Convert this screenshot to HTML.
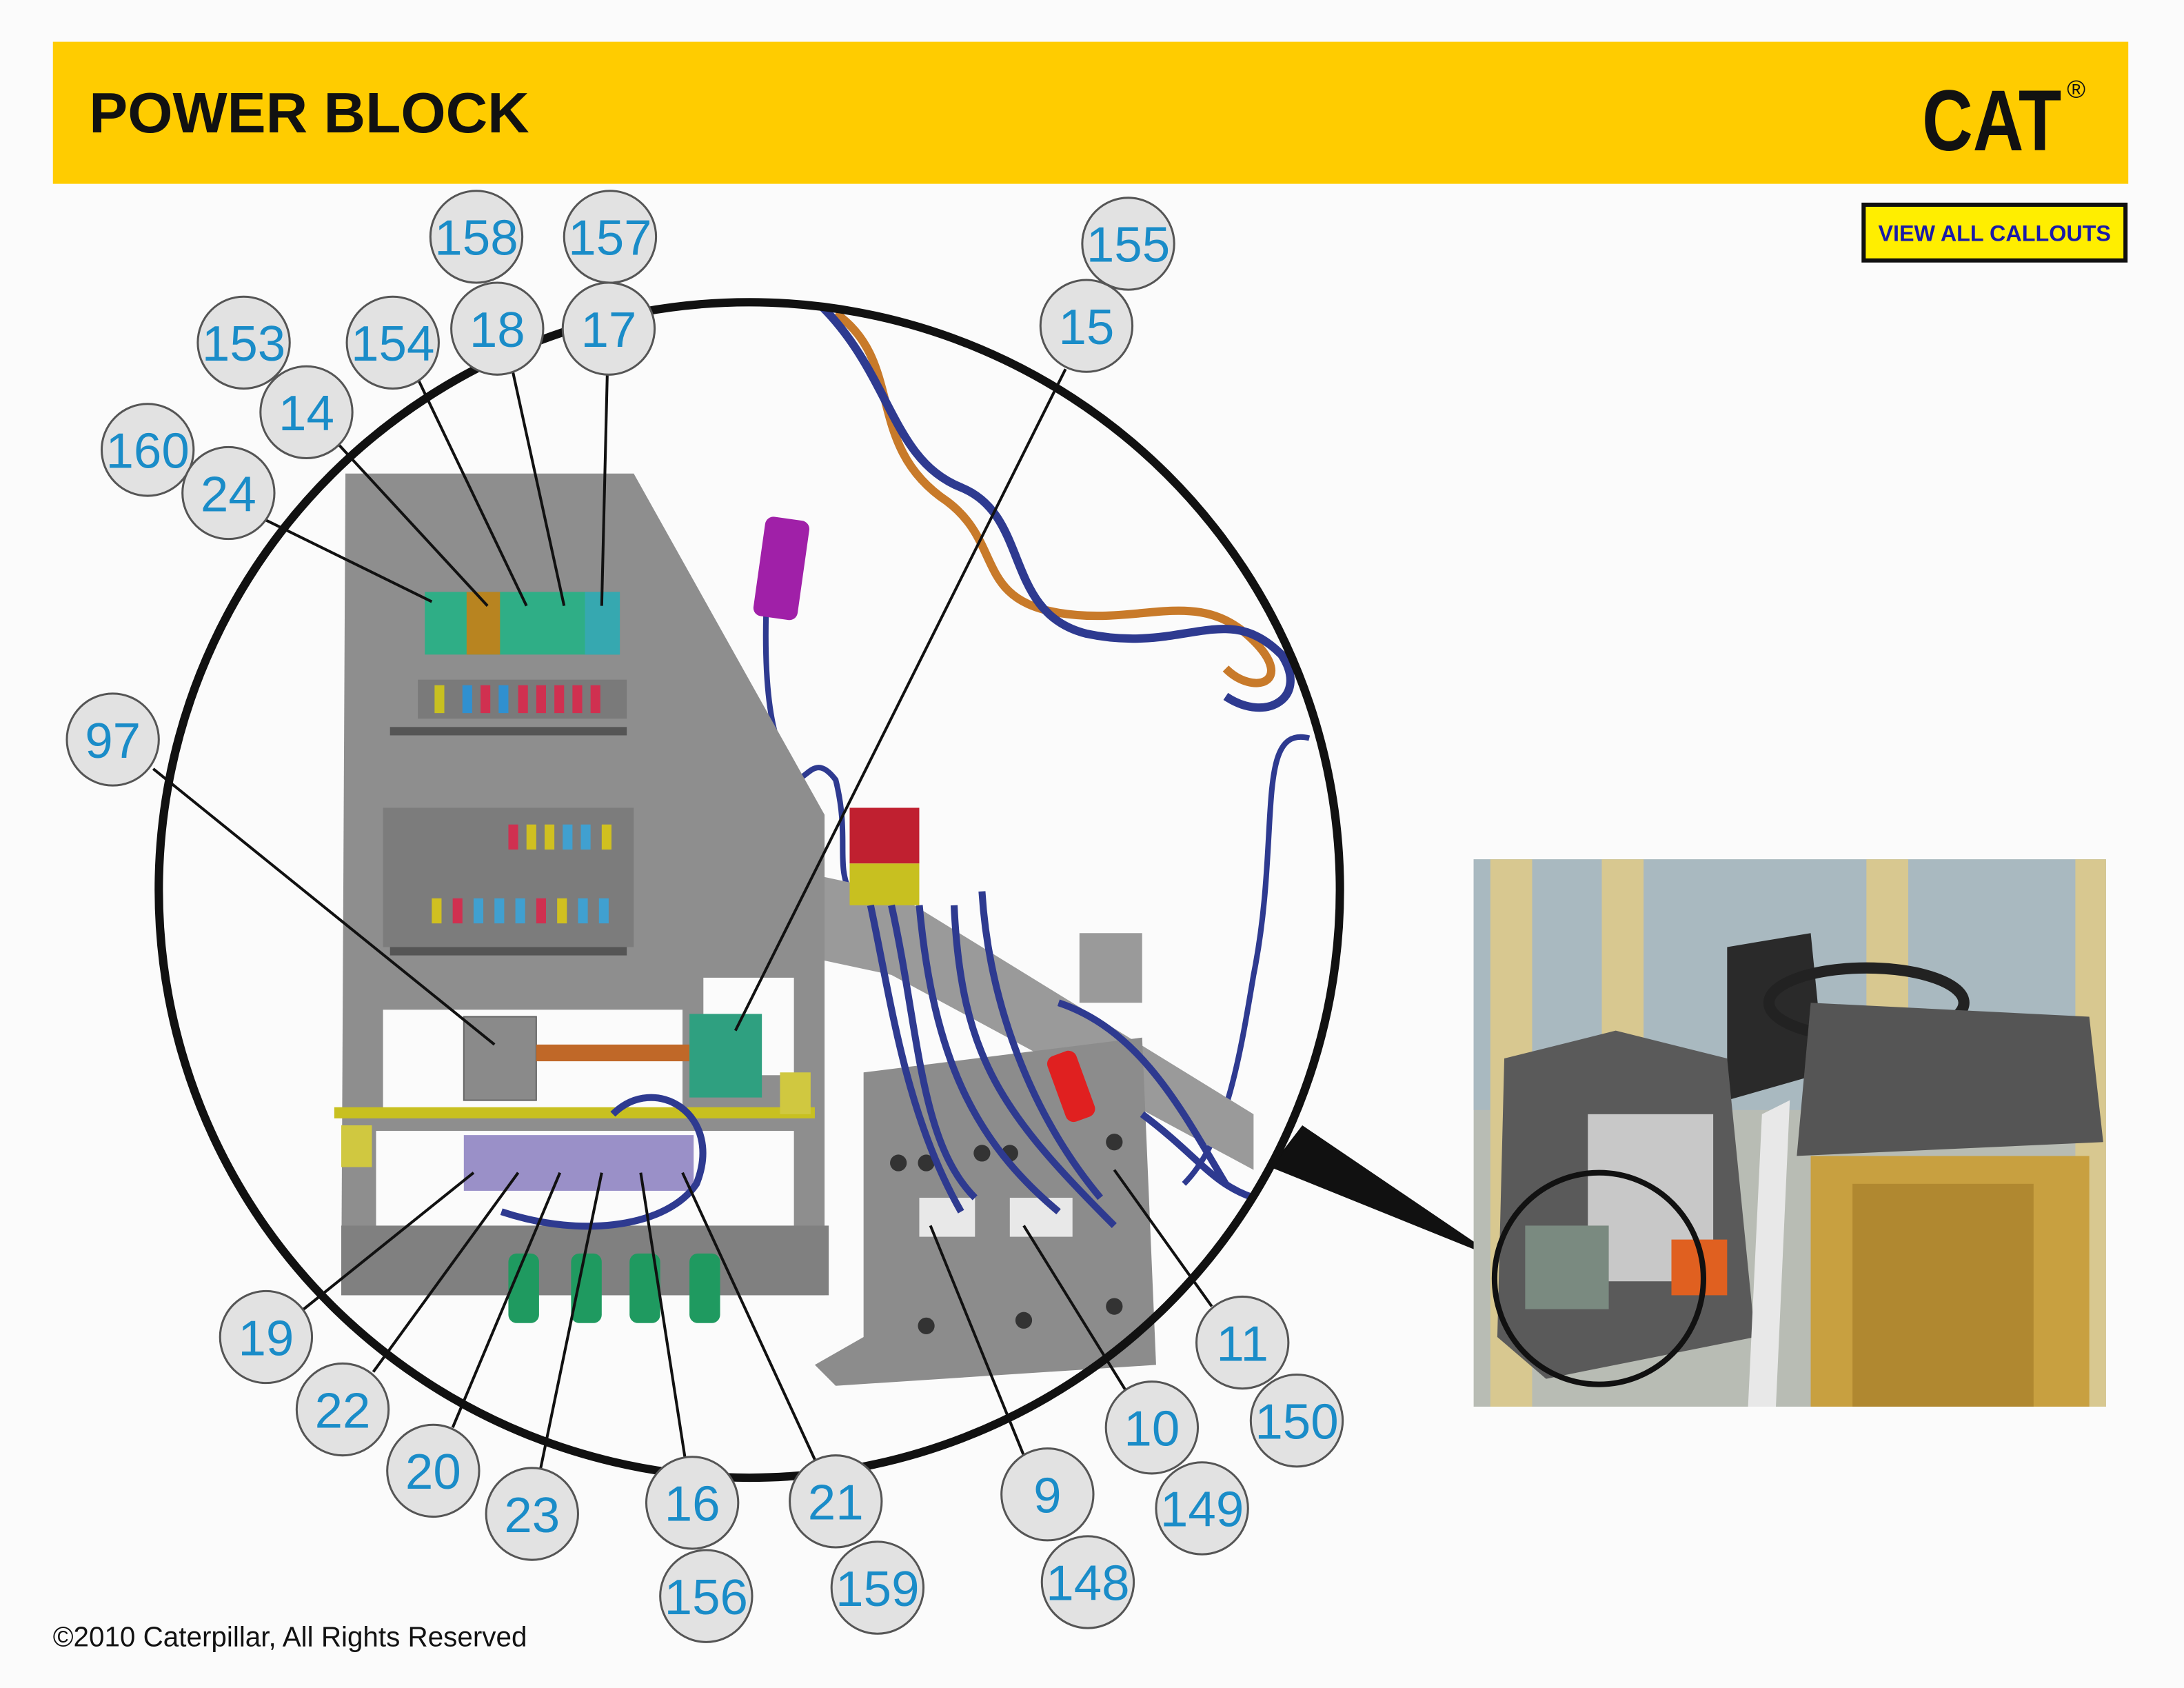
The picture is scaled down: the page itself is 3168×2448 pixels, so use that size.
<!DOCTYPE html>
<html><head><meta charset="utf-8"><style>
html,body{margin:0;padding:0;background:#fbfbfb;}
svg{display:block}
</style></head><body>
<svg width="3168" height="2448" viewBox="0 0 1568 1212" preserveAspectRatio="none" xmlns="http://www.w3.org/2000/svg">
<rect width="1568" height="1212" fill="#fbfbfb"/>
<!-- header -->
<rect x="38" y="30" width="1490" height="102" fill="#ffcc00"/>
<text x="64" y="95" font-family="Liberation Sans, sans-serif" font-weight="bold" font-size="41" fill="#111" textLength="316" lengthAdjust="spacingAndGlyphs">POWER BLOCK</text>
<text x="1380" y="108" font-family="Liberation Sans, sans-serif" font-weight="bold" font-size="62" fill="#111" textLength="100" lengthAdjust="spacingAndGlyphs">CAT</text>
<text x="1484" y="70" font-family="Liberation Sans, sans-serif" font-size="18" fill="#111">®</text>
<!-- button -->
<rect x="1338" y="147" width="188" height="40" fill="#ffee00" stroke="#111" stroke-width="3"/>
<text x="1432" y="173" text-anchor="middle" font-family="Liberation Sans, sans-serif" font-weight="bold" font-size="16" fill="#1a1aa8">VIEW ALL CALLOUTS</text>

<!-- pointer triangle -->
<polygon points="912,838 935,808 1078,905" fill="#111"/>

<!-- wires top right -->
<path d="M600,225 C650,260 620,320 680,360 C720,390 700,430 760,440 C820,450 860,420 900,460 C930,490 900,500 880,480" fill="none" stroke="#c87a2a" stroke-width="6"/>
<path d="M590,220 C640,270 640,330 690,350 C740,370 720,440 780,455 C850,470 880,430 920,470 C940,500 910,520 880,500" fill="none" stroke="#2e3a90" stroke-width="6"/>
<path d="M940,530 C900,520 920,600 900,700 C890,760 880,820 850,850" fill="none" stroke="#2e3a90" stroke-width="4"/>
<path d="M550,440 C548,520 560,540 570,560 C580,560 585,540 600,560 C610,600 600,620 610,640" fill="none" stroke="#2e3a90" stroke-width="4"/>
<rect x="545" y="372" width="32" height="72" rx="6" fill="#a020a8" transform="rotate(8 560 408)"/>

<!-- bracket / rail -->
<polygon points="500,610 640,640 900,800 900,840 640,700 500,670" fill="#9a9a9a"/>
<!-- panel -->
<polygon points="248,340 455,340 592,585 592,930 245,930" fill="#8e8e8e"/>
<rect x="275" y="725" width="215" height="75" fill="#fbfbfb"/>
<rect x="505" y="702" width="65" height="70" fill="#fbfbfb"/>
<rect x="270" y="812" width="300" height="70" fill="#fbfbfb"/>
<rect x="245" y="880" width="350" height="50" fill="#808080"/>
<rect x="240" y="795" width="345" height="8" fill="#c8c020"/>
<rect x="245" y="808" width="22" height="30" fill="#d0c840"/>
<rect x="560" y="770" width="22" height="30" fill="#d0c840"/>
<!-- relays top -->
<rect x="305" y="425" width="140" height="45" fill="#2fae86"/>
<rect x="335" y="425" width="24" height="45" fill="#b88420"/>
<rect x="420" y="425" width="25" height="45" fill="#36a8b0"/>
<!-- fuse rows -->
<rect x="300" y="488" width="150" height="28" fill="#7a7a7a"/>
<g fill="#d03050"><rect x="345" y="492" width="7" height="20"/><rect x="372" y="492" width="7" height="20"/><rect x="385" y="492" width="7" height="20"/><rect x="398" y="492" width="7" height="20"/><rect x="411" y="492" width="7" height="20"/><rect x="424" y="492" width="7" height="20"/></g>
<rect x="312" y="492" width="7" height="20" fill="#c8c020"/><rect x="332" y="492" width="7" height="20" fill="#3090d0"/><rect x="358" y="492" width="7" height="20" fill="#3090d0"/>
<rect x="280" y="522" width="170" height="6" fill="#555"/>
<rect x="275" y="580" width="180" height="100" fill="#7c7c7c"/>
<g><rect x="365" y="592" width="7" height="18" fill="#d03050"/><rect x="378" y="592" width="7" height="18" fill="#d0c020"/><rect x="391" y="592" width="7" height="18" fill="#d0c020"/><rect x="404" y="592" width="7" height="18" fill="#40a0d0"/><rect x="417" y="592" width="7" height="18" fill="#40a0d0"/><rect x="432" y="592" width="7" height="18" fill="#d0c020"/>
<rect x="310" y="645" width="7" height="18" fill="#d0c020"/><rect x="325" y="645" width="7" height="18" fill="#d03050"/><rect x="340" y="645" width="7" height="18" fill="#40a0d0"/><rect x="355" y="645" width="7" height="18" fill="#40a0d0"/><rect x="370" y="645" width="7" height="18" fill="#40a0d0"/><rect x="385" y="645" width="7" height="18" fill="#d03050"/><rect x="400" y="645" width="7" height="18" fill="#d0c020"/><rect x="415" y="645" width="7" height="18" fill="#40a0d0"/><rect x="430" y="645" width="7" height="18" fill="#40a0d0"/></g>
<rect x="280" y="680" width="170" height="6" fill="#555"/>
<!-- relays middle -->
<rect x="333" y="730" width="52" height="60" fill="#8a8a8a" stroke="#666"/>
<rect x="385" y="750" width="110" height="12" fill="#c06828"/>
<rect x="495" y="728" width="52" height="60" fill="#2fa080"/>
<!-- lower purple relays -->
<rect x="333" y="815" width="165" height="40" fill="#9a90c8"/>
<path d="M440,800 C470,770 520,800 500,850 C480,880 420,890 360,870" fill="none" stroke="#2e3a90" stroke-width="5"/>
<g fill="#1f9a60"><rect x="365" y="900" width="22" height="50" rx="6"/><rect x="410" y="900" width="22" height="50" rx="6"/><rect x="452" y="900" width="22" height="50" rx="6"/><rect x="495" y="900" width="22" height="50" rx="6"/></g>
<!-- right power block -->
<polygon points="620,770 820,745 830,980 600,995 585,980 620,960" fill="#8c8c8c"/>
<g fill="#e8e8e8"><rect x="660" y="860" width="40" height="28"/><rect x="725" y="860" width="45" height="28"/></g>
<g fill="#333"><circle cx="645" cy="835" r="6"/><circle cx="665" cy="835" r="6"/><circle cx="705" cy="828" r="6"/><circle cx="725" cy="828" r="6"/><circle cx="800" cy="820" r="6"/><circle cx="665" cy="952" r="6"/><circle cx="735" cy="948" r="6"/><circle cx="800" cy="938" r="6"/></g>
<rect x="610" y="580" width="50" height="40" fill="#c02030"/><rect x="610" y="620" width="50" height="30" fill="#c8c020"/>
<rect x="758" y="755" width="22" height="50" rx="6" fill="#e02020" transform="rotate(-20 769 780)"/>
<g fill="none" stroke="#2e3a90" stroke-width="5">
<path d="M625,650 C640,720 650,800 690,870"/><path d="M640,650 C660,740 660,820 700,860"/><path d="M660,650 C670,760 700,820 760,870"/><path d="M685,650 C690,760 720,800 800,880"/><path d="M705,640 C710,720 740,800 790,860"/><path d="M760,720 C820,740 850,800 880,850"/><path d="M820,800 C860,830 870,850 900,860"/>
</g>
<rect x="775" y="670" width="45" height="50" fill="#9a9a9a"/>

<!-- big circle -->
<ellipse cx="538" cy="639" rx="424" ry="422" fill="none" stroke="#111" stroke-width="6"/>

<!-- inset photo -->
<rect x="1058" y="617" width="454" height="393" fill="#b8bcb4"/>
<rect x="1058" y="617" width="454" height="180" fill="#a9b9c0"/>
<rect x="1070" y="617" width="30" height="393" fill="#d8c890"/>
<rect x="1150" y="617" width="30" height="200" fill="#d8c890"/>
<rect x="1340" y="617" width="30" height="200" fill="#d8c890"/>
<rect x="1490" y="617" width="22" height="393" fill="#d8c890"/>
<polygon points="1240,680 1300,670 1310,770 1240,790" fill="#2a2a2a"/>
<ellipse cx="1340" cy="720" rx="70" ry="25" fill="none" stroke="#222" stroke-width="8"/>
<polygon points="1300,720 1500,730 1510,820 1290,830" fill="#555"/>
<rect x="1300" y="830" width="200" height="180" fill="#c8a040"/>
<rect x="1330" y="850" width="130" height="160" fill="#b08830"/>
<polygon points="1080,760 1160,740 1240,760 1260,960 1110,990 1075,960" fill="#5a5a5a"/>
<rect x="1140" y="800" width="90" height="120" fill="#c8c8c8"/>
<rect x="1200" y="890" width="40" height="40" fill="#e06020"/>
<rect x="1095" y="880" width="60" height="60" fill="#7a8a80"/>
<polygon points="1265,800 1285,790 1275,1010 1255,1010" fill="#e8e8e8"/>
<ellipse cx="1148" cy="918" rx="75" ry="76" fill="none" stroke="#111" stroke-width="4"/>

<!-- leader lines -->
<g stroke="#111" stroke-width="2" fill="none">
<line x1="190" y1="373" x2="310" y2="432"/>
<line x1="242" y1="318" x2="350" y2="435"/>
<line x1="300" y1="272" x2="378" y2="435"/>
<line x1="368" y1="266" x2="405" y2="435"/>
<line x1="436" y1="268" x2="432" y2="435"/>
<line x1="765" y1="265" x2="528" y2="740"/>
<line x1="110" y1="552" x2="355" y2="750"/>
<line x1="218" y1="940" x2="340" y2="842"/>
<line x1="268" y1="985" x2="372" y2="842"/>
<line x1="325" y1="1025" x2="402" y2="842"/>
<line x1="388" y1="1055" x2="432" y2="842"/>
<line x1="492" y1="1048" x2="460" y2="842"/>
<line x1="585" y1="1048" x2="490" y2="842"/>
<line x1="735" y1="1045" x2="668" y2="880"/>
<line x1="808" y1="998" x2="735" y2="880"/>
<line x1="870" y1="938" x2="800" y2="840"/>
</g>

<!-- callouts -->
<g font-family="Liberation Sans, sans-serif" font-size="36" fill="#1a8cc8" text-anchor="middle">
<g stroke="#555" stroke-width="1.5" fill="#e2e2e2">
<circle cx="342" cy="170" r="33"/><circle cx="438" cy="170" r="33"/><circle cx="810" cy="175" r="33"/>
<circle cx="175" cy="246" r="33"/><circle cx="282" cy="246" r="33"/><circle cx="357" cy="236" r="33"/><circle cx="437" cy="236" r="33"/><circle cx="780" cy="234" r="33"/>
<circle cx="220" cy="296" r="33"/><circle cx="106" cy="323" r="33"/><circle cx="164" cy="354" r="33"/><circle cx="81" cy="531" r="33"/>
<circle cx="191" cy="960" r="33"/><circle cx="246" cy="1012" r="33"/><circle cx="311" cy="1056" r="33"/><circle cx="382" cy="1087" r="33"/>
<circle cx="497" cy="1079" r="33"/><circle cx="600" cy="1078" r="33"/><circle cx="507" cy="1146" r="33"/><circle cx="630" cy="1140" r="33"/>
<circle cx="752" cy="1073" r="33"/><circle cx="781" cy="1136" r="33"/><circle cx="827" cy="1025" r="33"/><circle cx="863" cy="1083" r="33"/>
<circle cx="892" cy="964" r="33"/><circle cx="931" cy="1020" r="33"/>
</g>
<text x="342" y="183">158</text><text x="438" y="183">157</text><text x="810" y="188">155</text>
<text x="175" y="259">153</text><text x="282" y="259">154</text><text x="357" y="249">18</text><text x="437" y="249">17</text><text x="780" y="247">15</text>
<text x="220" y="309">14</text><text x="106" y="336">160</text><text x="164" y="367">24</text><text x="81" y="544">97</text>
<text x="191" y="973">19</text><text x="246" y="1025">22</text><text x="311" y="1069">20</text><text x="382" y="1100">23</text>
<text x="497" y="1092">16</text><text x="600" y="1091">21</text><text x="507" y="1159">156</text><text x="630" y="1153">159</text>
<text x="752" y="1086">9</text><text x="781" y="1149">148</text><text x="827" y="1038">10</text><text x="863" y="1096">149</text>
<text x="892" y="977">11</text><text x="931" y="1033">150</text>
</g>

<text x="38" y="1182" font-family="Liberation Sans, sans-serif" font-size="20" fill="#111">©2010 Caterpillar, All Rights Reserved</text>
</svg>
</body></html>
